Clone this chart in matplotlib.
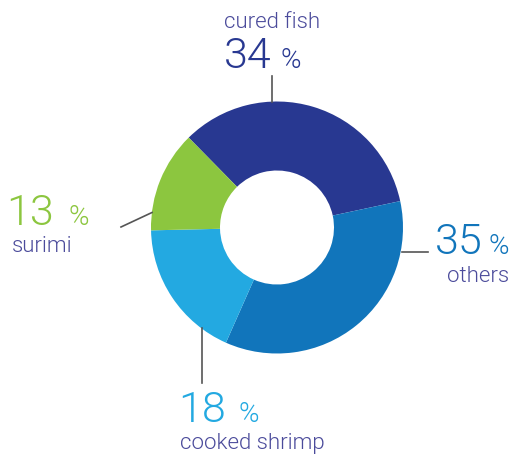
import matplotlib
matplotlib.use("Agg")
import matplotlib.pyplot as plt

categories = ["cured fish", "others", "cooked shrimp", "surimi"]
values = [34, 35, 18, 13]
colors = ["#283891", "#1175BB", "#23A9E1", "#8CC63F"]
pct_labels = ["34", "35", "18", "13"]

W, H = 517, 455
fig = plt.figure(figsize=(W / 100, H / 100), dpi=100)
ax = fig.add_axes([0, 0, 1, 1])

def Y(y):
    return H - y

cx, cy = 277, 227.5
ax.pie(values, colors=colors, startangle=134.5, counterclock=False,
       radius=126, center=(cx, Y(cy)),
       wedgeprops=dict(width=126 - 57, linewidth=0))
ax.set_xlim(0, W)
ax.set_ylim(0, H)
ax.set_aspect("equal")
ax.axis("off")

FONT = "Roboto"
WEIGHT = 300
name_color = "#4B4B9B"
line_color = "#555555"

# leader lines
ax.plot([272, 272], [Y(76), Y(102)], color=line_color, lw=1.2)
ax.plot([402, 428], [Y(252), Y(252)], color=line_color, lw=1.2)
ax.plot([202, 202], [Y(328), Y(383)], color=line_color, lw=1.2)
ax.plot([121, 152], [Y(227), Y(212.5)], color=line_color, lw=1.2)

big = 31
small = 20
name = 16

def pct(x_num_right, x_pct_left, base, num, color):
    ax.text(x_num_right, Y(base), num, ha="right", va="baseline",
            fontsize=big, color=color, family=FONT, fontweight=WEIGHT)
    ax.text(x_pct_left, Y(base), "%", ha="left", va="baseline",
            fontsize=small, color=color, family=FONT, fontweight=WEIGHT)

# cured fish
ax.text(272, Y(28), categories[0], ha="center", va="baseline",
        fontsize=name, color=name_color, family=FONT, fontweight=WEIGHT)
pct(271, 281, 68, pct_labels[0], colors[0])

# others
pct(483, 488, 254, pct_labels[1], colors[1])
ax.text(509, Y(282), categories[1], ha="right", va="baseline",
        fontsize=name, color=name_color, family=FONT, fontweight=WEIGHT)

# cooked shrimp
pct(226, 238, 422, pct_labels[2], colors[2])
ax.text(180, Y(449), categories[2], ha="left", va="baseline",
        fontsize=name, color=name_color, family=FONT, fontweight=WEIGHT)

# surimi
pct(54, 69, 225, pct_labels[3], colors[3])
ax.text(12, Y(252), categories[3], ha="left", va="baseline",
        fontsize=name, color=name_color, family=FONT, fontweight=WEIGHT)

fig.savefig("out.png", dpi=100)
